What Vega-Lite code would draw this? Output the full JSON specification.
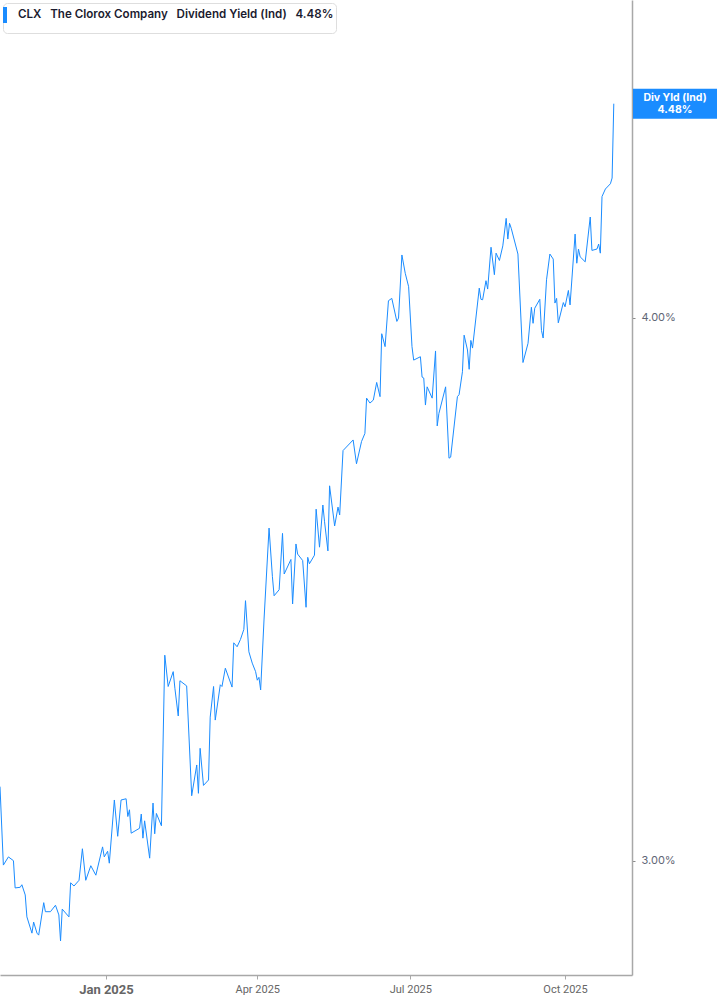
{
  "$schema": "https://vega.github.io/schema/vega-lite/v6.json",
  "width": 632,
  "height": 975,
  "autosize": "none",
  "padding": {"left": 0, "top": 0, "right": 85, "bottom": 30},
  "background": "white",
  "config": {"view": {"stroke": null}, "font": "Inter"},
  "datasets": {
    "yield": [
      {"date": "2024-10-30", "yield": 3.120}, {"date": "2024-11-01", "yield": 2.993}, {"date": "2024-11-04", "yield": 3.006},
      {"date": "2024-11-07", "yield": 3.000}, {"date": "2024-11-08", "yield": 2.957}, {"date": "2024-11-11", "yield": 2.958},
      {"date": "2024-11-12", "yield": 2.962}, {"date": "2024-11-14", "yield": 2.946}, {"date": "2024-11-15", "yield": 2.912},
      {"date": "2024-11-18", "yield": 2.887}, {"date": "2024-11-19", "yield": 2.904}, {"date": "2024-11-21", "yield": 2.887},
      {"date": "2024-11-22", "yield": 2.884}, {"date": "2024-11-25", "yield": 2.934}, {"date": "2024-11-26", "yield": 2.920},
      {"date": "2024-11-29", "yield": 2.920}, {"date": "2024-12-02", "yield": 2.930}, {"date": "2024-12-04", "yield": 2.915},
      {"date": "2024-12-05", "yield": 2.875}, {"date": "2024-12-06", "yield": 2.924}, {"date": "2024-12-10", "yield": 2.912},
      {"date": "2024-12-11", "yield": 2.965}, {"date": "2024-12-13", "yield": 2.960}, {"date": "2024-12-16", "yield": 2.969},
      {"date": "2024-12-18", "yield": 3.019}, {"date": "2024-12-20", "yield": 2.969}, {"date": "2024-12-23", "yield": 2.992},
      {"date": "2024-12-26", "yield": 2.977}, {"date": "2024-12-30", "yield": 3.022}, {"date": "2024-12-31", "yield": 3.006},
      {"date": "2025-01-02", "yield": 3.015}, {"date": "2025-01-03", "yield": 2.996}, {"date": "2025-01-06", "yield": 3.098},
      {"date": "2025-01-08", "yield": 3.039}, {"date": "2025-01-10", "yield": 3.098}, {"date": "2025-01-13", "yield": 3.100},
      {"date": "2025-01-14", "yield": 3.071}, {"date": "2025-01-15", "yield": 3.082}, {"date": "2025-01-16", "yield": 3.044},
      {"date": "2025-01-21", "yield": 3.052}, {"date": "2025-01-22", "yield": 3.075}, {"date": "2025-01-23", "yield": 3.036},
      {"date": "2025-01-24", "yield": 3.064}, {"date": "2025-01-27", "yield": 3.004}, {"date": "2025-01-29", "yield": 3.093},
      {"date": "2025-01-30", "yield": 3.043}, {"date": "2025-01-31", "yield": 3.076}, {"date": "2025-02-03", "yield": 3.056},
      {"date": "2025-02-05", "yield": 3.345}, {"date": "2025-02-07", "yield": 3.290}, {"date": "2025-02-10", "yield": 3.316},
      {"date": "2025-02-11", "yield": 3.287}, {"date": "2025-02-13", "yield": 3.239}, {"date": "2025-02-14", "yield": 3.300},
      {"date": "2025-02-18", "yield": 3.291}, {"date": "2025-02-21", "yield": 3.105}, {"date": "2025-02-24", "yield": 3.156},
      {"date": "2025-02-25", "yield": 3.109}, {"date": "2025-02-26", "yield": 3.184}, {"date": "2025-02-28", "yield": 3.122},
      {"date": "2025-03-03", "yield": 3.131}, {"date": "2025-03-04", "yield": 3.237}, {"date": "2025-03-06", "yield": 3.290},
      {"date": "2025-03-07", "yield": 3.232}, {"date": "2025-03-10", "yield": 3.293}, {"date": "2025-03-11", "yield": 3.290},
      {"date": "2025-03-13", "yield": 3.322}, {"date": "2025-03-17", "yield": 3.289}, {"date": "2025-03-18", "yield": 3.367},
      {"date": "2025-03-20", "yield": 3.360}, {"date": "2025-03-22", "yield": 3.373}, {"date": "2025-03-24", "yield": 3.391},
      {"date": "2025-03-25", "yield": 3.443}, {"date": "2025-03-27", "yield": 3.351}, {"date": "2025-03-29", "yield": 3.331},
      {"date": "2025-03-31", "yield": 3.316}, {"date": "2025-04-01", "yield": 3.301}, {"date": "2025-04-02", "yield": 3.306},
      {"date": "2025-04-03", "yield": 3.284}, {"date": "2025-04-05", "yield": 3.408}, {"date": "2025-04-08", "yield": 3.578},
      {"date": "2025-04-10", "yield": 3.487}, {"date": "2025-04-11", "yield": 3.452}, {"date": "2025-04-14", "yield": 3.463},
      {"date": "2025-04-16", "yield": 3.568}, {"date": "2025-04-17", "yield": 3.492}, {"date": "2025-04-21", "yield": 3.519},
      {"date": "2025-04-22", "yield": 3.437}, {"date": "2025-04-24", "yield": 3.548}, {"date": "2025-04-25", "yield": 3.529},
      {"date": "2025-04-28", "yield": 3.517}, {"date": "2025-04-30", "yield": 3.431}, {"date": "2025-05-01", "yield": 3.523},
      {"date": "2025-05-02", "yield": 3.511}, {"date": "2025-05-05", "yield": 3.527}, {"date": "2025-05-06", "yield": 3.614},
      {"date": "2025-05-08", "yield": 3.542}, {"date": "2025-05-10", "yield": 3.622}, {"date": "2025-05-11", "yield": 3.590},
      {"date": "2025-05-13", "yield": 3.535}, {"date": "2025-05-14", "yield": 3.659}, {"date": "2025-05-17", "yield": 3.582},
      {"date": "2025-05-19", "yield": 3.618}, {"date": "2025-05-20", "yield": 3.603}, {"date": "2025-05-22", "yield": 3.728},
      {"date": "2025-05-28", "yield": 3.749}, {"date": "2025-05-30", "yield": 3.702}, {"date": "2025-06-02", "yield": 3.746},
      {"date": "2025-06-04", "yield": 3.762}, {"date": "2025-06-05", "yield": 3.833}, {"date": "2025-06-07", "yield": 3.823},
      {"date": "2025-06-09", "yield": 3.829}, {"date": "2025-06-11", "yield": 3.865}, {"date": "2025-06-13", "yield": 3.836},
      {"date": "2025-06-14", "yield": 3.966}, {"date": "2025-06-16", "yield": 3.939}, {"date": "2025-06-18", "yield": 4.036},
      {"date": "2025-06-20", "yield": 4.041}, {"date": "2025-06-23", "yield": 3.992}, {"date": "2025-06-24", "yield": 3.999},
      {"date": "2025-06-26", "yield": 4.135}, {"date": "2025-06-28", "yield": 4.095}, {"date": "2025-06-30", "yield": 4.066},
      {"date": "2025-07-02", "yield": 3.939}, {"date": "2025-07-03", "yield": 3.911}, {"date": "2025-07-07", "yield": 3.918},
      {"date": "2025-07-08", "yield": 3.876}, {"date": "2025-07-09", "yield": 3.874}, {"date": "2025-07-10", "yield": 3.819},
      {"date": "2025-07-11", "yield": 3.856}, {"date": "2025-07-14", "yield": 3.833}, {"date": "2025-07-16", "yield": 3.930},
      {"date": "2025-07-17", "yield": 3.777}, {"date": "2025-07-18", "yield": 3.802}, {"date": "2025-07-22", "yield": 3.856},
      {"date": "2025-07-24", "yield": 3.713}, {"date": "2025-07-25", "yield": 3.715}, {"date": "2025-07-29", "yield": 3.836},
      {"date": "2025-07-30", "yield": 3.840}, {"date": "2025-08-01", "yield": 3.887}, {"date": "2025-08-02", "yield": 3.963},
      {"date": "2025-08-04", "yield": 3.932}, {"date": "2025-08-05", "yield": 3.892}, {"date": "2025-08-06", "yield": 3.952},
      {"date": "2025-08-07", "yield": 3.936}, {"date": "2025-08-11", "yield": 4.063}, {"date": "2025-08-12", "yield": 4.039},
      {"date": "2025-08-13", "yield": 4.038}, {"date": "2025-08-15", "yield": 4.079}, {"date": "2025-08-16", "yield": 4.061},
      {"date": "2025-08-18", "yield": 4.152}, {"date": "2025-08-20", "yield": 4.092}, {"date": "2025-08-21", "yield": 4.139},
      {"date": "2025-08-23", "yield": 4.123}, {"date": "2025-08-25", "yield": 4.155}, {"date": "2025-08-27", "yield": 4.216},
      {"date": "2025-08-28", "yield": 4.170}, {"date": "2025-08-29", "yield": 4.205}, {"date": "2025-08-30", "yield": 4.194},
      {"date": "2025-09-03", "yield": 4.137}, {"date": "2025-09-06", "yield": 3.906}, {"date": "2025-09-09", "yield": 3.946},
      {"date": "2025-09-11", "yield": 4.022}, {"date": "2025-09-12", "yield": 3.988}, {"date": "2025-09-13", "yield": 4.020},
      {"date": "2025-09-16", "yield": 4.039}, {"date": "2025-09-17", "yield": 3.973}, {"date": "2025-09-18", "yield": 3.957},
      {"date": "2025-09-20", "yield": 4.081}, {"date": "2025-09-22", "yield": 4.137}, {"date": "2025-09-24", "yield": 4.126},
      {"date": "2025-09-25", "yield": 4.031}, {"date": "2025-09-26", "yield": 4.041}, {"date": "2025-09-27", "yield": 3.989},
      {"date": "2025-09-30", "yield": 4.032}, {"date": "2025-10-01", "yield": 4.023}, {"date": "2025-10-03", "yield": 4.058},
      {"date": "2025-10-04", "yield": 4.027}, {"date": "2025-10-07", "yield": 4.181}, {"date": "2025-10-08", "yield": 4.117},
      {"date": "2025-10-09", "yield": 4.148}, {"date": "2025-10-10", "yield": 4.131}, {"date": "2025-10-13", "yield": 4.120},
      {"date": "2025-10-16", "yield": 4.219}, {"date": "2025-10-17", "yield": 4.145}, {"date": "2025-10-20", "yield": 4.148},
      {"date": "2025-10-21", "yield": 4.159}, {"date": "2025-10-22", "yield": 4.139}, {"date": "2025-10-23", "yield": 4.265},
      {"date": "2025-10-25", "yield": 4.282}, {"date": "2025-10-28", "yield": 4.294}, {"date": "2025-10-29", "yield": 4.307},
      {"date": "2025-10-30", "yield": 4.480}
    ],
    "tag": [{"label": "Div Yld (Ind)\n4.48%", "yield": 4.48}]
  },
  "layer": [
    {
      "data": {"name": "yield"},
      "mark": {"type": "line", "strokeWidth": 1, "clip": true},
      "encoding": {
        "x": {
          "field": "date",
          "type": "temporal",
          "scale": {
            "type": "utc",
            "domain": [
              {"year": 2024, "month": 10, "date": 30, "utc": true},
              {"year": 2025, "month": 11, "date": 9, "hours": 20, "utc": true}
            ]
          },
          "axis": {
            "title": null,
            "grid": false,
            "values": [
              {"year": 2025, "month": 1, "date": 1, "utc": true},
              {"year": 2025, "month": 4, "date": 1, "utc": true},
              {"year": 2025, "month": 7, "date": 1, "utc": true},
              {"year": 2025, "month": 10, "date": 1, "utc": true}
            ],
            "labelExpr": "utcFormat(datum.value, '%b %Y')",
            "domainColor": "#a8a8a8",
            "domainWidth": 1.5,
            "tickColor": "#a8a8a8",
            "tickSize": 4,
            "labelPadding": 4,
            "labelFont": "Liberation Sans Narrow, Roboto",
            "labelColor": "#666666",
            "labelFontSize": {"condition": {"test": "utcmonth(datum.value) == 0", "value": 13}, "value": 11},
            "labelFontWeight": {"condition": {"test": "utcmonth(datum.value) == 0", "value": "bold"}, "value": "normal"}
          }
        },
        "y": {
          "field": "yield",
          "type": "quantitative",
          "scale": {"type": "log", "domain": [2.8237, 4.733], "nice": false},
          "axis": {
            "orient": "right",
            "title": null,
            "grid": false,
            "values": [3, 4],
            "labelExpr": "format(datum.value, '.2f') + '%'",
            "domainColor": "#a8a8a8",
            "domainWidth": 1.5,
            "tickColor": "#8a8a8a",
            "tickSize": 3,
            "labelPadding": 6,
            "labelFont": "Inter",
            "labelFontSize": 11,
            "labelColor": "#5f6675"
          }
        },
        "color": {
          "datum": "CLX\u00a0\u00a0\u00a0The Clorox Company\u00a0\u00a0\u00a0Dividend Yield (Ind)\u00a0\u00a0\u00a04.48%",
          "scale": {"range": ["#1a8cff"]},
          "legend": {
            "orient": "top-left",
            "offset": 3,
            "title": null,
            "padding": 2,
            "fillColor": "white",
            "strokeColor": "#dedede",
            "cornerRadius": 4,
            "symbolType": "M-1,-1L-1,1",
            "symbolSize": 256,
            "symbolStrokeWidth": 4,
            "symbolOffset": -2,
            "labelOffset": -5,
            "labelFont": "Inter",
            "labelFontSize": 11.6,
            "labelFontWeight": 600,
            "labelColor": "#1b1b2f",
            "labelLimit": 600
          }
        }
      }
    },
    {
      "data": {"name": "tag"},
      "mark": {"type": "rect", "width": 84, "height": 30, "xOffset": 43, "color": "#1a8cff", "clip": false},
      "encoding": {
        "x": {"datum": {"year": 2025, "month": 11, "date": 9, "hours": 20, "utc": true}, "type": "temporal"},
        "y": {"field": "yield", "type": "quantitative"}
      }
    },
    {
      "data": {"name": "tag"},
      "mark": {"type": "text", "lineBreak": "\n", "color": "white", "font": "Inter", "fontWeight": "bold", "fontSize": 10.5, "xOffset": 43, "dy": -6, "align": "center", "baseline": "middle", "lineHeight": 12, "clip": false},
      "encoding": {
        "x": {"datum": {"year": 2025, "month": 11, "date": 9, "hours": 20, "utc": true}, "type": "temporal"},
        "y": {"field": "yield", "type": "quantitative"},
        "text": {"field": "label"}
      }
    }
  ]
}
